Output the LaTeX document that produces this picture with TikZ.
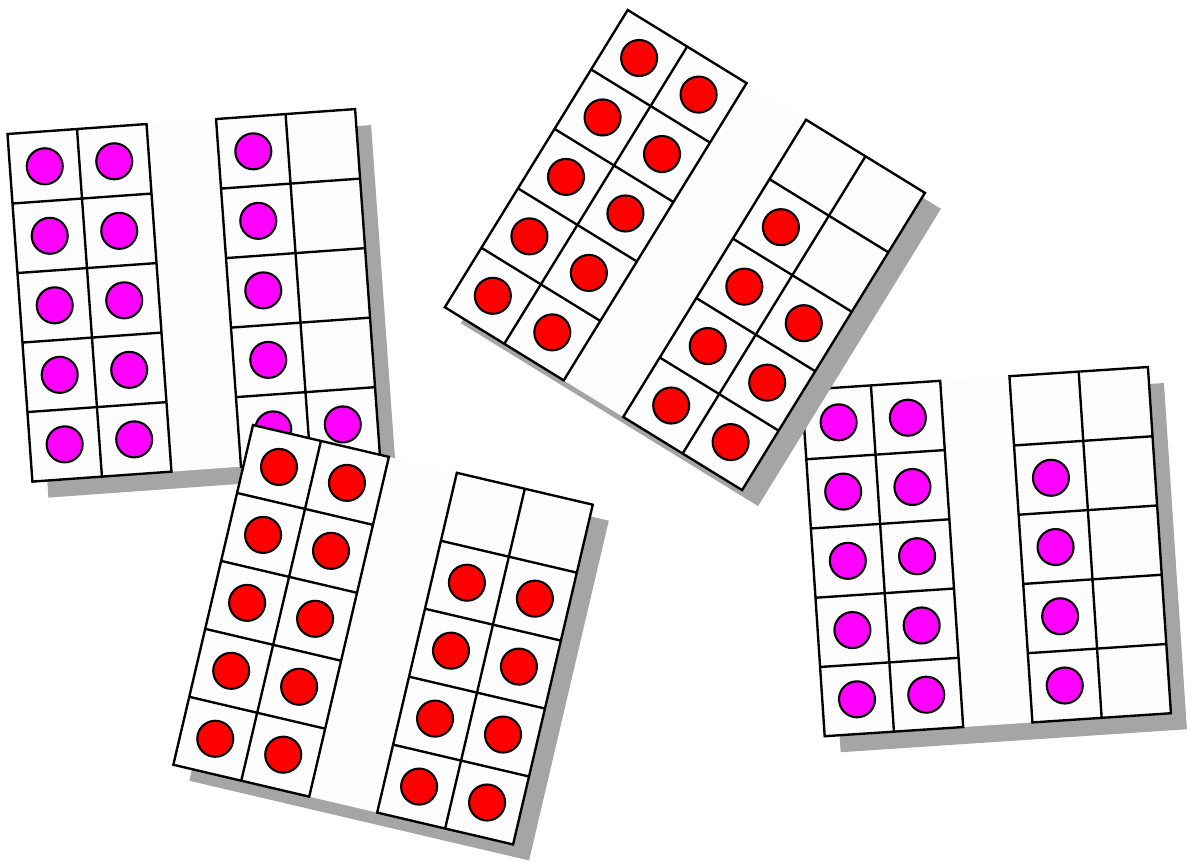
\documentclass[tikz,border=0pt]{standalone}

\definecolor{shade}{RGB}{165,165,165}
\definecolor{cardbg}{RGB}{253,253,253}
\definecolor{pinkdot}{RGB}{255,0,255}
\definecolor{reddot}{RGB}{255,0,0}

\begin{document}
\begin{tikzpicture}[
    x=0.02cm, y=0.02cm,
    frame/.style={draw=black, line width=1.35pt},
    dot/.style={circle, draw=black, line width=1.2pt, fill=#1,
                minimum size=0.72cm, inner sep=0pt},
    shadow/.style={fill=shade}
  ]

  \useasboundingbox (0,0) rectangle (1191,-863);

  % cards: name / top left corner x / y / angle / cell / colour / dots of right frame
  \foreach \name/\cx/\cy/\ang/\cell/\col/\pat in {
      A/7.5/134/4.1/69.7/pinkdot/{0/3,1/3,2/3,3/3,4/3,4/4},
      C/253/425/-13.2/69.8/reddot/{1/3,1/4,2/3,2/4,3/3,3/4,4/3,4/4},
      D/801.7/390/3.8/69.4/pinkdot/{1/3,2/3,3/3,4/3},
      B/627.7/10/-31.6/69.8/reddot/{1/3,2/3,2/4,3/3,3/4,4/3,4/4}} {

    % shadow
    \fill[shadow, shift={(\cx+16,-\cy-16)}, rotate=\ang, scale=\cell]
      (0,0) rectangle (5,-5);

    \begin{scope}[shift={(\cx,-\cy)}, rotate=\ang, scale=\cell]
      \fill[cardbg] (0,0) rectangle (5,-5);

      % the two ten frames
      \draw[frame] (0,0) rectangle (2,-5) (1,0) -- (1,-5);
      \draw[frame] (3,0) rectangle (5,-5) (4,0) -- (4,-5);
      \foreach \row in {1,...,4} {
        \draw[frame] (0,-\row) -- (2,-\row);
        \draw[frame] (3,-\row) -- (5,-\row);
      }

      % left frame is full
      \foreach \row in {0,...,4}
        \foreach \clm in {0,1}
          \node[dot=\col] (\name-\row-\clm) at (\clm+0.5,-\row-0.5) {};

      % right frame
      \foreach \row/\clm in \pat
        \node[dot=\col] (\name-\row-\clm) at (\clm+0.5,-\row-0.5) {};
    \end{scope}
  }

\end{tikzpicture}
\end{document}
